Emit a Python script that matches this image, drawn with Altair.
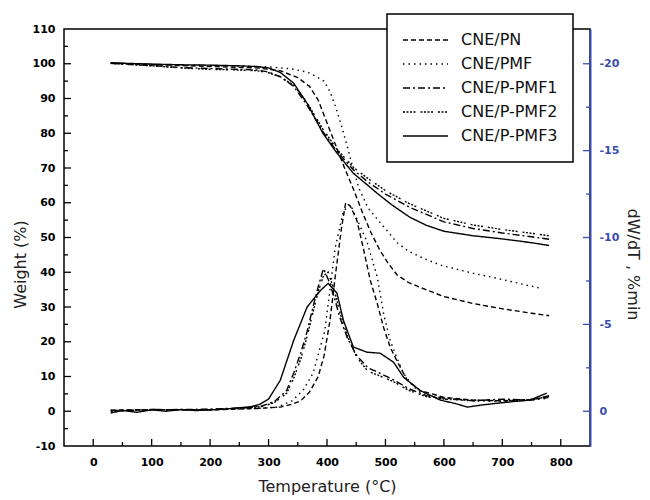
import altair as alt
import pandas as pd

series = ["CNE/PN", "CNE/PMF", "CNE/P-PMF1", "CNE/P-PMF2", "CNE/P-PMF3"]
dash_patterns = [[5, 3], [1.5, 4], [7, 3, 2, 3], [2, 1.5, 2, 1.5, 2, 1.5, 2, 5], [1, 0]]

# ---- TG curves: temperature (°C) and weight (%) ----
pn_tg_T = [30, 100, 200, 280, 320, 350, 370, 385, 400, 415, 430, 445, 460, 475, 490, 505, 520, 540, 560, 600, 650, 700, 750, 780]
pn_tg_W = [100.2, 99.8, 99.2, 98.8, 98, 96, 93.5, 89.5, 83, 76.5, 70, 64, 57.5, 51.5, 46.5, 42.5, 39.2, 37, 35.6, 33, 31, 29.5, 28.2, 27.5]

pmf_tg_T = [30, 100, 200, 300, 340, 366, 380, 395, 405, 415, 425, 435, 445, 455, 470, 485, 500, 520, 540, 565, 595, 650, 690, 765]
pmf_tg_W = [100.2, 99.8, 99.5, 99.1, 98.5, 97.6, 96.5, 95, 92, 87.5, 82, 76, 69.5, 64, 58.5, 55.5, 52.5, 48.5, 46, 44, 42, 39.7, 38.3, 35.4]

pmf1_tg_T = [30, 100, 150, 200, 250, 280, 300, 320, 343, 366, 393, 417, 445, 470, 500, 540, 600, 650, 700, 750, 780]
pmf1_tg_W = [100.1, 99.5, 98.9, 98.6, 98.4, 98.2, 97.6, 96.3, 93.5, 88, 80.5, 74.8, 69.5, 66, 62.5, 58.8, 54.5, 52.6, 51.3, 50.2, 49.5]

pmf2_tg_T = [30, 100, 150, 200, 250, 280, 300, 320, 343, 366, 393, 417, 445, 470, 500, 540, 600, 650, 700, 750, 780]
pmf2_tg_W = [100.1, 99.4, 98.8, 98.4, 98.2, 98, 97.4, 96.2, 93.8, 88.8, 81.2, 75.4, 70.2, 67, 63.5, 59.8, 55.5, 53.6, 52.3, 51.2, 50.5]

pmf3_tg_T = [30, 60, 100, 150, 200, 250, 280, 300, 320, 343, 366, 393, 417, 445, 470, 486, 510, 542, 570, 600, 650, 700, 750, 780]
pmf3_tg_W = [100.3, 100.1, 99.9, 99.7, 99.6, 99.4, 99.2, 98.8, 97.5, 94.4, 88.6, 80, 74.3, 68.5, 65, 62.7, 59.5, 55.8, 53.5, 51.8, 50.5, 49.6, 48.5, 47.7]

# ---- DTG curves: temperature (°C) and dW/dT (%/min) ----
pn_dtg_T = [30, 100, 200, 280, 320, 340, 355, 370, 385, 395, 405, 415, 425, 432, 440, 451, 462, 474, 486, 497, 508, 519, 537, 559, 600, 650, 700, 750, 780]
pn_dtg_R = [-0.06, -0.1, -0.08, -0.16, -0.24, -0.4, -0.6, -1.1, -2, -3.2, -5.2, -8, -10.6, -12, -11.8, -11, -9.4, -7.54, -6.2, -4.8, -3.7, -2.94, -1.8, -1.2, -0.8, -0.64, -0.6, -0.68, -0.8]

pmf_dtg_T = [30, 100, 200, 280, 315, 340, 359, 376, 396, 405, 414, 428, 440, 452, 468, 486, 497, 508, 519, 531, 548, 570, 600, 650, 700, 750, 780]
pmf_dtg_R = [-0.04, -0.06, -0.1, -0.16, -0.24, -0.6, -1.2, -2.18, -4.6, -6.96, -9.4, -11.52, -11.9, -11, -9.8, -7.72, -5.6, -4.08, -3.12, -2.18, -1.4, -0.9, -0.7, -0.6, -0.56, -0.64, -0.76]

pmf1_dtg_T = [30, 100, 200, 260, 290, 310, 331, 343, 355, 366, 376, 386, 394, 402, 412, 422, 435, 451, 470, 490, 514, 540, 570, 600, 650, 700, 750, 780]
pmf1_dtg_R = [-0.04, -0.08, -0.12, -0.2, -0.32, -0.56, -1.2, -2.2, -3.34, -4.6, -6, -7.3, -8.2, -7.6, -6.6, -5.4, -4.2, -3.2, -2.5, -2.2, -1.8, -1.3, -0.9, -0.76, -0.6, -0.7, -0.64, -0.9]

pmf2_dtg_T = [30, 100, 200, 260, 290, 310, 331, 343, 355, 366, 376, 386, 394, 402, 412, 422, 435, 451, 470, 490, 514, 540, 570, 600, 650, 700, 750, 780]
pmf2_dtg_R = [0, -0.1, -0.08, -0.18, -0.28, -0.5, -1.04, -1.9, -3, -4.3, -5.7, -7, -7.8, -8, -7, -5.7, -4.3, -3.1, -2.3, -2.04, -1.7, -1.2, -0.84, -0.7, -0.64, -0.6, -0.68, -0.84]

pmf3_dtg_T = [30, 50, 75, 100, 125, 150, 175, 200, 225, 250, 270, 285, 300, 320, 343, 366, 389, 402, 417, 428, 445, 468, 491, 514, 531, 559, 594, 620, 640, 665, 691, 720, 747, 776]
pmf3_dtg_R = [0.1, -0.04, 0.06, -0.08, 0, -0.1, -0.04, -0.08, -0.12, -0.2, -0.26, -0.4, -0.7, -1.78, -4.08, -6, -6.96, -7.36, -6.8, -5.24, -3.7, -3.4, -3.34, -2.82, -1.96, -1.2, -0.64, -0.44, -0.24, -0.36, -0.46, -0.56, -0.64, -1.04]

# ---- axis tick values ----
x_major = [0, 100, 200, 300, 400, 500, 600, 700, 800]
x_minor = [50, 150, 250, 350, 450, 550, 650, 750]
left_major = [0, 10, 20, 30, 40, 50, 60, 70, 80, 90, 100]
left_minor = [-5, 5, 15, 25, 35, 45, 55, 65, 75, 85, 95, 105]
left_labels = [-10, 0, 10, 20, 30, 40, 50, 60, 70, 80, 90, 100, 110]
right_major = [-20, -15, -10, -5, 0]
right_minor = [-17.5, -12.5, -7.5, -2.5]

tg_sets = [(pn_tg_T, pn_tg_W), (pmf_tg_T, pmf_tg_W), (pmf1_tg_T, pmf1_tg_W), (pmf2_tg_T, pmf2_tg_W), (pmf3_tg_T, pmf3_tg_W)]
dtg_sets = [(pn_dtg_T, pn_dtg_R), (pmf_dtg_T, pmf_dtg_R), (pmf1_dtg_T, pmf1_dtg_R), (pmf2_dtg_T, pmf2_dtg_R), (pmf3_dtg_T, pmf3_dtg_R)]

tg = pd.concat([pd.DataFrame({"T": t, "W": w, "series": s}) for s, (t, w) in zip(series, tg_sets)], ignore_index=True)
dtg = pd.concat([pd.DataFrame({"T": t, "R": r, "series": s}) for s, (t, r) in zip(series, dtg_sets)], ignore_index=True)

W_PX, H_PX = 526, 417
BLUE = "#3a4cb0"
TICK_FONT = "DejaVu Sans"

x_scale = alt.Scale(domain=[-50, 850], nice=False, zero=False)
yl_scale = alt.Scale(domain=[-10, 110], nice=False, zero=False)
yr_scale = alt.Scale(domain=[-22, 2], reverse=True, nice=False, zero=False)
dash_scale = alt.Scale(domain=series, range=dash_patterns)

legend = alt.Legend(
    title=None, orient="none", legendX=323, legendY=-15, direction="vertical",
    symbolType="stroke", symbolSize=2025, symbolStrokeWidth=1.5, symbolStrokeColor="black",
    clipHeight=22, rowPadding=2, padding=15, strokeColor="black", fillColor="white",
    labelFont="DejaVu Sans", labelFontSize=16, labelColor="#111", labelOffset=12, labelLimit=300,
)

x_axis = alt.Axis(
    values=x_major, labelExpr="'' + datum.value",
    ticks=False, domain=False, grid=False,
    labelFont=TICK_FONT, labelFontWeight="bold", labelFontSize=11, labelColor="black", labelPadding=10,
    title="Temperature (°C)", titleFont="DejaVu Sans", titleFontSize=16, titleFontWeight="normal",
    titleColor="#222", titleX=263, titleY=40, titleBaseline="middle", titleAlign="center",
)

left_axis = alt.Axis(
    values=left_labels, labelExpr="'' + datum.value",
    ticks=False, domain=False, grid=False,
    labelFont=TICK_FONT, labelFontWeight="bold", labelFontSize=11, labelColor="black", labelPadding=9,
    title="Weight (%)", titleFont="DejaVu Sans", titleFontSize=16, titleFontWeight="normal",
    titleColor="#222", titleX=-44, titleY=235, titleAngle=-90, titleBaseline="middle", titleAlign="center",
)

right_axis = alt.Axis(
    orient="right", values=right_major, labelExpr="'' + datum.value",
    ticks=False, domain=True, domainColor=BLUE, domainWidth=2, grid=False,
    labelFont=TICK_FONT, labelFontWeight="bold", labelFontSize=11, labelColor=BLUE, labelPadding=9,
    title="dW/dT , %min", titleFont="DejaVu Sans", titleFontSize=16, titleFontWeight="normal",
    titleColor="#222", titleX=42, titleY=235, titleAngle=90, titleBaseline="middle", titleAlign="center",
)

X_ENC = alt.X("T:Q", scale=x_scale, axis=x_axis, title="Temperature (°C)")

tg_layer = alt.Chart(tg).mark_line(color="black", strokeWidth=1.4).encode(
    x=X_ENC,
    y=alt.Y("W:Q", scale=yl_scale, axis=left_axis, title="Weight (%)"),
    strokeDash=alt.StrokeDash("series:N", scale=dash_scale, legend=legend, sort=series),
)

dtg_layer = alt.Chart(dtg).mark_line(color="black", strokeWidth=1.4).encode(
    x=X_ENC,
    y=alt.Y("R:Q", scale=yr_scale, axis=right_axis, title="dW/dT , %min"),
    strokeDash=alt.StrokeDash("series:N", scale=dash_scale, legend=legend, sort=series),
)


def hticks(values, scale, size, color, right=False):
    # short horizontal tick marks (rect ticks) pointing inward from the left or right frame
    center = W_PX - size / 2 if right else size / 2
    return alt.Chart(pd.DataFrame({"v": values})).mark_tick(
        orient="horizontal", size=size, thickness=1.3, color=color, opacity=1
    ).encode(
        y=alt.Y("v:Q", scale=scale, axis=None),
        x=alt.value(center),
    )


def vticks(values, size):
    # short vertical tick marks pointing up from the bottom frame
    return alt.Chart(pd.DataFrame({"T": values})).mark_tick(
        orient="vertical", size=size, thickness=1.3, color="black", opacity=1
    ).encode(
        x=X_ENC,
        y=alt.value(H_PX - size / 2),
    )


chart = (
    alt.layer(
        tg_layer,
        dtg_layer,
        hticks(left_major, yl_scale, 7, "black"),
        hticks(left_minor, yl_scale, 4, "black"),
        hticks(right_major, yr_scale, 7, BLUE, right=True),
        hticks(right_minor, yr_scale, 4, BLUE, right=True),
        vticks(x_major, 7),
        vticks(x_minor, 4),
    )
    .resolve_scale(y="independent")
    .properties(
        width=W_PX, height=H_PX,
        autosize=alt.AutoSizeParams(type="none"),
        padding={"left": 56, "top": 21, "right": 52, "bottom": 50},
        background="white",
    )
    .configure_view(stroke="black", strokeWidth=1.5)
    .configure_legend(strokeWidth=1.5)
)

chart.save("out.html", embed_options={"renderer": "svg", "actions": False})
